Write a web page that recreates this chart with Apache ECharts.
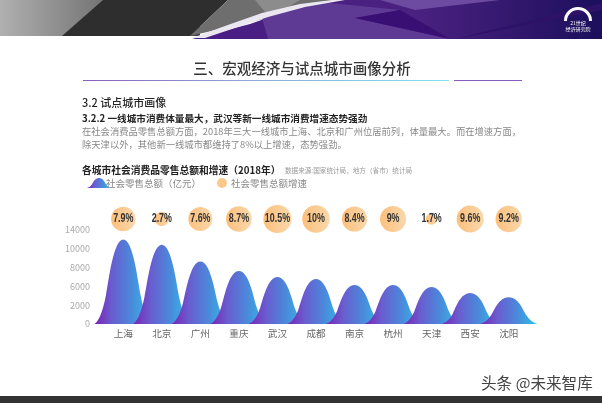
<!DOCTYPE html>
<html>
<head>
<meta charset="utf-8">
<script src="https://cdn.jsdelivr.net/npm/echarts@6/dist/echarts.min.js"></script>
<style>
  html, body { margin: 0; padding: 0; background: #fff; }
  #main { width: 602px; height: 403px; }
</style>
</head>
<body>
<div id="main"></div>
<script>
const cities = ['上海', '北京', '广州', '重庆', '武汉', '成都', '南京', '杭州', '天津', '西安', '沈阳'];
const salesTotal = [12600, 11800, 9300, 7900, 7000, 6700, 5800, 5800, 5500, 4600, 4000];
const salesGrowth = [7.9, 2.7, 7.6, 8.7, 10.5, 10, 8.4, 9, 1.7, 9.6, 9.2];
const yTickLabels = ['0', '2000', '6000', '8000', '10000', '14000'];

const FONT = '"Noto Sans CJK SC", "Noto Sans", sans-serif';
const BELL_PATH = 'M0 100 C 6 98 14 88 20 66 C 25 48 33 0 50 0 C 67 0 75 48 80 66 C 86 88 94 98 100 100 Z';
// same outline, stretched so the legend key keeps its wide look
const LEGEND_BELL_PATH = 'M0 100 C 14 98 34 88 48 66 C 60 48 79 0 120 0 C 161 0 180 48 192 66 C 206 88 226 98 240 100 Z';

const bellGradient = new echarts.graphic.LinearGradient(0, 0, 1, 0, [
  { offset: 0, color: '#7a22b4' },
  { offset: 0.3, color: '#6a5ccf' },
  { offset: 0.65, color: '#4a8adb' },
  { offset: 1, color: '#2cc4e8' }
]);
const bubbleGradient = new echarts.graphic.LinearGradient(0, 0, 1, 0, [
  { offset: 0, color: '#fdbf7b' },
  { offset: 1, color: '#f8d8ac' }
]);

function renderBell(params, api) {
  const base = api.coord([api.value(0), 0]);
  const top = api.coord([api.value(0), api.value(1)]);
  const width = api.size([1, 0])[0] * 1.5;
  return {
    type: 'path',
    shape: {
      pathData: BELL_PATH,
      layout: 'cover',
      x: base[0] - width / 2,
      y: top[1],
      width: width,
      height: base[1] - top[1]
    },
    // overlapping feet turn dark blue, as in the original
    style: { fill: bellGradient, blend: 'multiply' }
  };
}

function renderBubble(params, api) {
  const pos = api.coord([api.value(0), api.value(1)]);
  const r = Math.sqrt(api.value(2)) * 4.35;
  return {
    type: 'group',
    children: [
      { type: 'circle', shape: { cx: pos[0], cy: pos[1], r: r }, style: { fill: bubbleGradient } },
      {
        // no narrow font installed, so squeeze the label
        type: 'text', x: pos[0], y: pos[1], scaleX: 0.74,
        style: {
          text: api.value(2) + '%', fill: '#333',
          font: 'bold 12px "Liberation Sans", sans-serif',
          textAlign: 'center', textVerticalAlign: 'middle'
        }
      }
    ]
  };
}

function polygon(points, fill) {
  return { type: 'polygon', silent: true, shape: { points: points }, style: { fill: fill } };
}

function text(x, y, str, size, color, weight, align) {
  return {
    type: 'text', x: x, y: y, silent: true,
    style: {
      text: str, fill: color, font: (weight || 'normal') + ' ' + size + 'px ' + FONT,
      textAlign: align || 'left', textVerticalAlign: 'middle'
    }
  };
}

function hGrad(stops) {
  return new echarts.graphic.LinearGradient(0, 0, 1, 0, stops);
}

const banner = [
  polygon([[0, 0], [200, 0], [200, 36], [0, 36]], hGrad([{ offset: 0, color: '#b0b0b0' }, { offset: 1, color: '#3c3c3c' }])),
  polygon([[103, 0], [228, 0], [190, 36], [62, 36]], '#2e2e2e'),
  polygon([[228, 0], [345, 0], [190, 36]], '#6e6e6e'),
  polygon([[255, 0], [300, 0], [270, 18]], '#8c8c8c'),
  polygon([[192, 39], [250, 24], [290, 10], [340, 0], [602, 0], [602, 39]], hGrad([
    { offset: 0, color: '#4a1e86' }, { offset: 0.55, color: '#4a2180' }, { offset: 1, color: '#1c0f5c' }
  ])),
  polygon([[262, 18], [320, 2], [400, 10], [355, 18], [450, 39], [268, 39]], '#5f3a94'),
  polygon([[380, 0], [500, 0], [415, 10]], '#6d4ba0'),
  polygon([[355, 18], [400, 10], [450, 39]], '#3a0f73'),
  polygon([[455, 39], [602, 3], [602, 10]], '#2d1268'),
  polygon([[192, 38], [225, 26], [262, 13], [300, 4], [332, 0], [345, 0], [305, 7], [268, 17], [232, 29], [205, 38]], '#ebe7f1'),
  // logo
  {
    type: 'arc', silent: true,
    shape: { cx: 578, cy: 21, r: 12.5, startAngle: Math.PI, endAngle: 2 * Math.PI },
    style: { stroke: '#fff', lineWidth: 3, fill: null }
  },
  text(578, 23, '21世纪', 5, '#fff', 'normal', 'center'),
  text(578, 29, '经济研究院', 5, '#fff', 'normal', 'center')
];

const page = [
  text(302, 68.5, '三、宏观经济与试点城市画像分析', 14.5, '#333', '500', 'center'),
  {
    type: 'rect', silent: true, shape: { x: 83, y: 80, width: 366, height: 1 },
    style: { fill: hGrad([{ offset: 0, color: '#8a5cc0' }, { offset: 0.45, color: '#8fa8d8' }, { offset: 1, color: '#7fe3ee' }]) }
  },
  { type: 'rect', silent: true, shape: { x: 454, y: 80, width: 68, height: 1 }, style: { fill: '#8a5cc0' } },
  text(82, 103, '3.2 试点城市画像', 11, '#222', '500'),
  text(82, 118, '3.2.2 一线城市消费体量最大，武汉等新一线城市消费增速态势强劲', 9.65, '#222', 'bold'),
  text(82, 131.5, '在社会消费品零售总额方面，2018年三大一线城市上海、北京和广州位居前列，体量最大。而在增速方面，', 9.3, '#888'),
  text(82, 144, '除天津以外，其他新一线城市都维持了8%以上增速，态势强劲。', 9.3, '#888'),
  text(82, 170, '各城市社会消费品零售总额和增速（2018年）', 9.75, '#222', 'bold'),
  text(285, 170.5, '数据来源:国家统计局，地方（省市）统计局', 6.6, '#999'),
  text(481, 383, '头条 @未来智库', 15.6, '#444'),
  { type: 'rect', silent: true, shape: { x: 0, y: 396, width: 602, height: 7 }, style: { fill: '#333' } }
];

const option = {
  backgroundColor: '#fff',
  animation: false,
  textStyle: { fontFamily: FONT },
  graphic: banner.concat(page),
  legend: {
    left: 82, top: 173, itemGap: 16, itemWidth: 24, itemHeight: 10,
    textStyle: { fontSize: 9.5, color: '#888', fontFamily: FONT },
    data: [
      {
        name: '社会零售总额（亿元）', icon: 'path://' + LEGEND_BELL_PATH,
        textStyle: { padding: [0, 0, 0, -10] }
      },
      {
        name: '社会零售总额增速', icon: 'circle',
        textStyle: { padding: [0, 0, 0, -8] }
      }
    ]
  },
  grid: [
    { left: 104, right: 74, top: 230, bottom: 79 },
    { left: 104, right: 74, top: 204, height: 30 }
  ],
  xAxis: [
    {
      type: 'category', data: cities, gridIndex: 0,
      axisLine: { show: false }, axisTick: { show: false },
      axisLabel: { fontSize: 9.6, color: '#666', margin: 5 }
    },
    { type: 'category', data: cities, gridIndex: 1, show: false }
  ],
  yAxis: [
    {
      type: 'value', gridIndex: 0, min: 0, max: 14000, interval: 2800,
      axisLine: { show: false }, axisTick: { show: false }, splitLine: { show: false },
      axisLabel: {
        fontSize: 9, color: '#aaa', margin: 14, padding: [0, 0, 4, 0],
        formatter: function (value, index) { return yTickLabels[index]; }
      }
    },
    { type: 'value', gridIndex: 1, min: -1, max: 1, show: false }
  ],
  series: [
    {
      name: '社会零售总额（亿元）',
      type: 'custom',
      renderItem: renderBell,
      xAxisIndex: 0, yAxisIndex: 0,
      itemStyle: { color: bellGradient },
      encode: { x: 0, y: 1 },
      data: salesTotal.map(function (v, i) { return [i, v]; })
    },
    {
      name: '社会零售总额增速',
      type: 'custom',
      renderItem: renderBubble,
      xAxisIndex: 1, yAxisIndex: 1,
      itemStyle: { color: '#fcc98c' },
      encode: { x: 0, y: 1 },
      data: salesGrowth.map(function (v, i) { return [i, 0, v]; })
    }
  ]
};

const chart = echarts.init(document.getElementById('main'));
chart.setOption(option);
</script>
</body>
</html>
